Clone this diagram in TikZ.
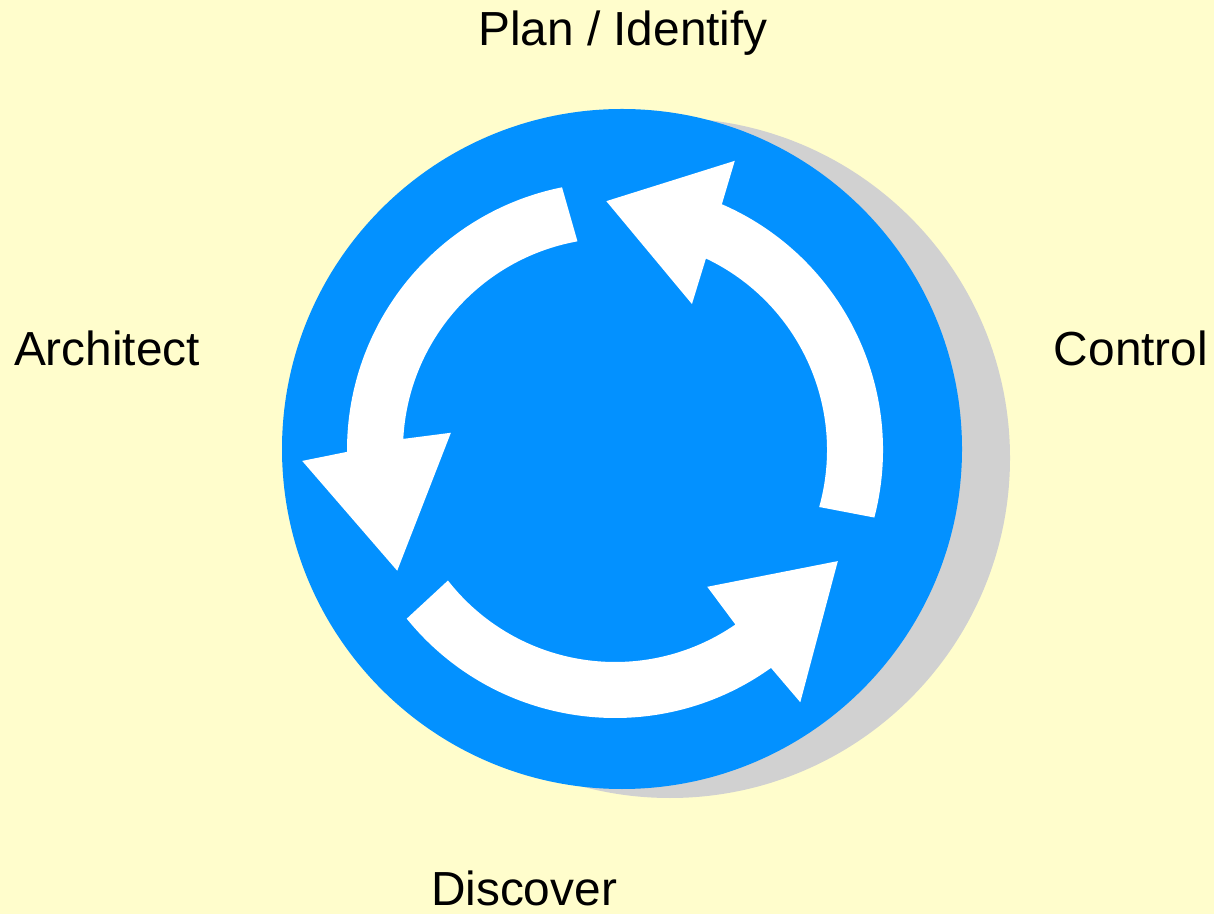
\documentclass[tikz,border=0pt]{standalone}
\usepackage{fontspec}
\setmainfont{Liberation Sans}
\definecolor{paper}{HTML}{FFFDCC}
\definecolor{disc}{HTML}{0391FF}
\definecolor{dropgray}{HTML}{D1D1D1}
\tikzset{
    phase/.style={font=\fontsize{34}{40}\selectfont, anchor=base, inner sep=0pt},
    turn/.style={fill=white},
}
\begin{document}
\begin{tikzpicture}[x=0.025cm, y=0.025cm]

    \useasboundingbox[fill=paper] (0,0) rectangle (1214,914);

    \coordinate (mid) at (622,465);
    \coordinate (drop) at (670,456);
    \coordinate (hub) at (615,464);

    \fill[dropgray] (drop) circle[radius=340];
    \fill[disc] (mid) circle[radius=340];

    \begin{scope}[shift={(hub)}]
        \foreach \tO/\tI/\hO/\hI/\wO/\wI/\tip in {101.4/100.2/180.4/177/182/174/209,
                -14.6/-15.6/66.5/64.6/67.5/62.2/92,
                219/218/305.6/304.6/306.3/304/333.5}
            \fill[turn] (\tO:268) arc[start angle=\tO, end angle=\hO, radius=268]
                -- (\wO:313) -- (\tip:249) -- (\wI:165) -- (\hI:212)
                arc[start angle=\hI, end angle=\tI, radius=212] -- cycle;
    \end{scope}

    \node[phase] (plan) at (623,868) {Plan / Identify};
    \node[phase] (arch) at (107,548) {Architect};
    \node[phase] (ctrl) at (1131,548) {Control};
    \node[phase] (disc) at (524,9) {Discover};

\end{tikzpicture}
\end{document}
